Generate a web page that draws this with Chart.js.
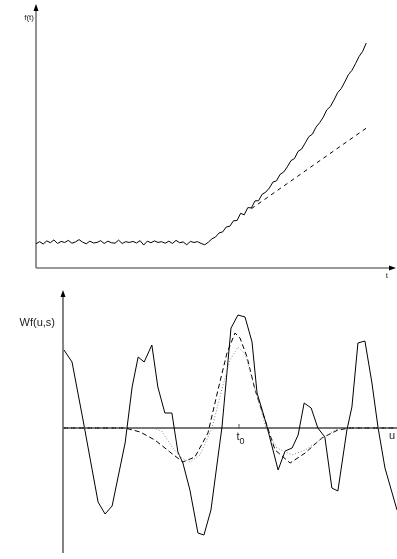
<!DOCTYPE html>
<html>
<head>
<meta charset="utf-8">
<script src="https://cdn.jsdelivr.net/npm/chart.js@4/dist/chart.umd.min.js"></script>
<style>
  html, body { margin:0; padding:0; background:#fff; }
  #wrap { position:relative; width:397px; height:559px; overflow:hidden; }
  canvas { position:absolute; left:0; }
  #c1 { top:0; }
  #c2 { top:280px; }
</style>
</head>
<body>
<div id="wrap">
<canvas id="c1" width="397" height="280"></canvas>
<canvas id="c2" width="397" height="279"></canvas>
</div>
<script>
// ---------- Top panel: f(t) ----------
const tValues = [];
for (let i = 0; i <= 92; i++) tValues.push(i);
const fValues = [
  9.4,10.2,9.3,10.5,9.8,10.9,9.5,10.3,9.9,10.7,
  9.6,10.1,11.0,10.0,9.4,10.4,9.7,9.9,10.6,9.5,
  10.4,9.8,9.6,10.8,9.5,10.2,9.9,10.3,9.7,10.6,
  8.9,10.4,9.8,10.5,9.9,10.2,9.6,10.4,9.5,10.7,
  9.8,10.1,9.0,10.3,9.9,10.2,9.5,
  9.0,10.0,11.3,12.0,13.6,14.0,15.9,16.2,18.3,18.4,
  21.2,20.6,23.4,23.3,26.0,26.1,28.6,29.4,31.0,33.3,
  33.8,36.3,37.2,39.2,41.6,42.4,45.2,46.1,48.5,50.9,
  51.9,54.6,56.3,58.4,61.3,62.6,65.1,67.9,69.5,72.1,
  74.9,76.6,79.2,82.0,84.0,87.2
];
const tTangent = [60, 92.5];
const fTangent = [23.0, 54.7];

// ---------- Bottom panel: Wf(u,s) ----------
const uSolid = [0.03,0.27,0.60,1.05,1.26,1.47,1.86,2.07,2.25,2.43,2.66,2.84,3.05,3.26,3.44,3.59,3.80,4.04,4.22,4.43,4.64,4.76,5.03,5.24,5.45,5.66,5.81,5.99,6.11,6.44,6.65,6.86,7.04,7.22,7.43,7.63,7.84,8.05,8.23,8.50,8.65,8.83,9.04,9.25,9.43,9.64,10.0];
const wSolid = [0.78,0.66,0.08,-0.74,-0.86,-0.78,-0.15,0.41,0.71,0.66,0.83,0.41,0.15,0.15,-0.24,-0.35,-0.62,-1.05,-1.07,-0.82,-0.29,0.01,1.00,1.13,1.11,0.86,0.35,0.15,0.01,-0.42,-0.23,-0.20,-0.07,0.25,0.20,0.00,-0.09,-0.60,-0.63,-0.02,0.21,0.85,0.87,0.45,0.01,-0.40,-0.82];

const uDashed = [0,1.86,2.31,2.75,3.20,3.59,3.95,4.34,4.64,4.91,5.15,5.30,5.51,5.75,6.05,6.35,6.80,7.25,7.75,8.23,8.59,10.0];
const wDashed = [0,0,-0.04,-0.12,-0.24,-0.34,-0.29,-0.05,0.38,0.75,0.95,0.90,0.71,0.38,0.08,-0.22,-0.35,-0.25,-0.10,-0.02,0,0];

const uDotted = [0,2.70,2.95,3.29,3.55,3.80,4.10,4.46,4.75,5.00,5.24,5.45,5.70,6.08,6.40,6.86,7.25,7.69,8.14,8.40,10.0];
const wDotted = [0,0,-0.03,-0.20,-0.30,-0.34,-0.27,0.00,0.38,0.68,0.81,0.74,0.45,0.00,-0.20,-0.27,-0.22,-0.12,-0.02,0,0];

const t0Value = 5.27;

const pts = (xs, ys) => xs.map((x, i) => ({x, y: ys[i]}));

const AXIS = '#777';
function arrowUp(ctx, x, y) {
  ctx.beginPath(); ctx.moveTo(x, y); ctx.lineTo(x-2.5, y+7); ctx.lineTo(x+2.5, y+7); ctx.closePath(); ctx.fill();
}
function arrowRight(ctx, x, y) {
  ctx.beginPath(); ctx.moveTo(x, y); ctx.lineTo(x-7, y-2.5); ctx.lineTo(x-7, y+2.5); ctx.closePath(); ctx.fill();
}

const topAxes = {
  id: 'topAxes',
  beforeDatasetsDraw(chart) {
    const {ctx, chartArea: a} = chart;
    ctx.save();
    ctx.strokeStyle = AXIS; ctx.lineWidth = 1.6;
    ctx.beginPath();
    ctx.moveTo(a.left, a.bottom); ctx.lineTo(a.left, a.top - 4);
    ctx.moveTo(a.left, a.bottom); ctx.lineTo(a.right - 2, a.bottom);
    ctx.stroke();
    ctx.fillStyle = '#000';
    arrowUp(ctx, a.left, a.top - 6);
    arrowRight(ctx, a.right + 1, a.bottom);
    ctx.fillStyle = '#222';
    ctx.font = '8px "Liberation Sans", Arial, sans-serif';
    ctx.textAlign = 'right'; ctx.textBaseline = 'middle';
    ctx.fillText('f(t)', a.left - 2, a.top + 8);
    ctx.font = '9px "Liberation Serif", serif';
    ctx.textAlign = 'center';
    ctx.fillText('t', a.right - 8, a.bottom + 8);
    ctx.restore();
  }
};

const bottomAxes = {
  id: 'bottomAxes',
  beforeDatasetsDraw(chart) {
    const {ctx, chartArea: a, scales} = chart;
    const x0 = scales.x.getPixelForValue(0);
    const y0 = scales.y.getPixelForValue(0);
    ctx.save();
    ctx.strokeStyle = AXIS; ctx.lineWidth = 1.8;
    ctx.beginPath();
    ctx.moveTo(x0, a.bottom + 3); ctx.lineTo(x0, a.top - 2);
    ctx.moveTo(x0, y0); ctx.lineTo(a.right, y0);
    ctx.stroke();
    ctx.fillStyle = '#000';
    arrowUp(ctx, x0, a.top - 5);
    // t0 tick
    const xt = scales.x.getPixelForValue(t0Value);
    ctx.strokeStyle = '#555'; ctx.lineWidth = 1;
    ctx.beginPath(); ctx.moveTo(xt, y0 - 4); ctx.lineTo(xt, y0 + 1); ctx.stroke();
    ctx.fillStyle = '#222';
    ctx.font = '11px "Liberation Sans", Arial, sans-serif';
    ctx.textBaseline = 'middle';
    ctx.textAlign = 'right';
    ctx.fillText('Wf(u,s)', x0 - 8, a.top + 28);
    ctx.textAlign = 'center';
    ctx.fillText('t', xt - 1, y0 + 9);
    ctx.font = '9px "Liberation Sans", Arial, sans-serif';
    ctx.fillText('0', xt + 3, y0 + 14);
    ctx.font = '11px "Liberation Sans", Arial, sans-serif';
    ctx.fillText('u', a.right - 5, y0 + 8);
    ctx.restore();
  }
};

const commonOpts = (pad, xr, yr) => ({
  responsive: false,
  devicePixelRatio: 1,
  animation: false,
  events: [],
  layout: { padding: pad },
  plugins: { legend: { display: false }, tooltip: { enabled: false } },
  elements: { point: { radius: 0 }, line: { tension: 0, borderWidth: 1 } },
  scales: {
    x: { type: 'linear', display: false, min: xr[0], max: xr[1] },
    y: { type: 'linear', display: false, min: yr[0], max: yr[1] }
  }
});

new Chart(document.getElementById('c1'), {
  type: 'line',
  data: {
    datasets: [
      { data: pts(tValues, fValues), borderColor: '#000', borderWidth: 1, fill: false },
      { data: pts(tTangent, fTangent), borderColor: '#000', borderWidth: 1, borderDash: [4, 4], fill: false }
    ]
  },
  options: commonOpts({left: 36, right: 2, top: 10, bottom: 12}, [0, 100], [0, 100]),
  plugins: [topAxes]
});

new Chart(document.getElementById('c2'), {
  type: 'line',
  data: {
    datasets: [
      { data: pts(uDotted, wDotted), borderColor: '#888', borderWidth: 1, borderDash: [1, 2], fill: false },
      { data: pts(uDashed, wDashed), borderColor: '#000', borderWidth: 1, borderDash: [5, 3], fill: false },
      { data: pts(uSolid, wSolid), borderColor: '#000', borderWidth: 1, fill: false }
    ]
  },
  options: commonOpts({left: 63, right: 0, top: 15, bottom: 9}, [0, 10], [-1.22, 1.33]),
  plugins: [bottomAxes]
});
</script>
</body>
</html>
